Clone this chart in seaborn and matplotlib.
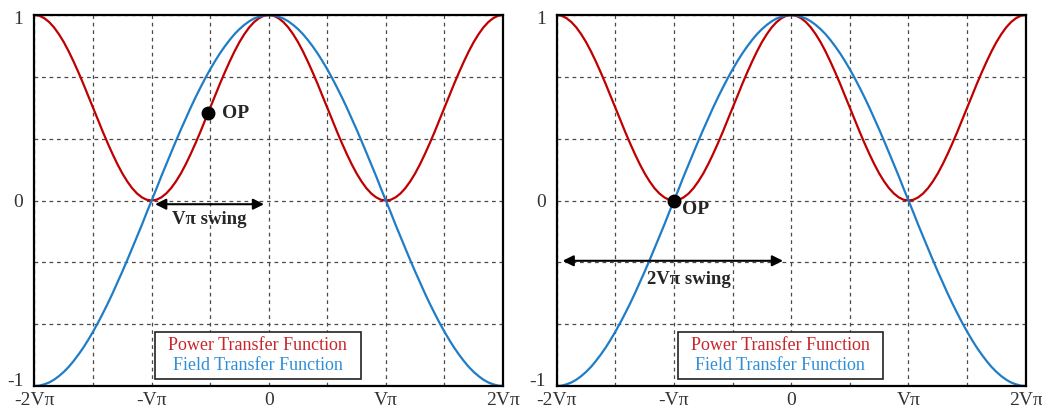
import matplotlib
matplotlib.use("Agg")
import matplotlib.pyplot as plt
import matplotlib.transforms as mtransforms
import seaborn as sns
import pandas as pd
from matplotlib.patches import Rectangle

# ---- data (x in units of Vpi) ----
x_vals = [-2.000, -1.958, -1.917, -1.875, -1.833, -1.792, -1.750, -1.708, -1.667, -1.625,
          -1.583, -1.542, -1.500, -1.458, -1.417, -1.375, -1.333, -1.292, -1.250, -1.208,
          -1.167, -1.125, -1.083, -1.042, -1.000, -0.958, -0.917, -0.875, -0.833, -0.792,
          -0.750, -0.708, -0.667, -0.625, -0.583, -0.542, -0.500, -0.458, -0.417, -0.375,
          -0.333, -0.292, -0.250, -0.208, -0.167, -0.125, -0.083, -0.042, 0.000,
          0.042, 0.083, 0.125, 0.167, 0.208, 0.250, 0.292, 0.333, 0.375, 0.417,
          0.458, 0.500, 0.542, 0.583, 0.625, 0.667, 0.708, 0.750, 0.792, 0.833,
          0.875, 0.917, 0.958, 1.000, 1.042, 1.083, 1.125, 1.167, 1.208, 1.250,
          1.292, 1.333, 1.375, 1.417, 1.458, 1.500, 1.542, 1.583, 1.625, 1.667,
          1.708, 1.750, 1.792, 1.833, 1.875, 1.917, 1.958, 2.000]
power_vals = [1.000, 0.996, 0.983, 0.962, 0.933, 0.897, 0.854, 0.804, 0.750, 0.691,
              0.629, 0.565, 0.500, 0.435, 0.371, 0.309, 0.250, 0.196, 0.146, 0.103,
              0.067, 0.038, 0.017, 0.004, 0.000, 0.004, 0.017, 0.038, 0.067, 0.103,
              0.146, 0.196, 0.250, 0.309, 0.371, 0.435, 0.500, 0.565, 0.629, 0.691,
              0.750, 0.804, 0.854, 0.897, 0.933, 0.962, 0.983, 0.996, 1.000,
              0.996, 0.983, 0.962, 0.933, 0.897, 0.854, 0.804, 0.750, 0.691, 0.629,
              0.565, 0.500, 0.435, 0.371, 0.309, 0.250, 0.196, 0.146, 0.103, 0.067,
              0.038, 0.017, 0.004, 0.000, 0.004, 0.017, 0.038, 0.067, 0.103, 0.146,
              0.196, 0.250, 0.309, 0.371, 0.435, 0.500, 0.565, 0.629, 0.691, 0.750,
              0.804, 0.854, 0.897, 0.933, 0.962, 0.983, 0.996, 1.000]
field_vals = [-1.000, -0.998, -0.991, -0.981, -0.966, -0.947, -0.924, -0.897, -0.866, -0.831,
              -0.793, -0.752, -0.707, -0.659, -0.609, -0.556, -0.500, -0.442, -0.383, -0.321,
              -0.259, -0.195, -0.131, -0.065, 0.000, 0.065, 0.131, 0.195, 0.259, 0.321,
              0.383, 0.442, 0.500, 0.556, 0.609, 0.659, 0.707, 0.752, 0.793, 0.831,
              0.866, 0.897, 0.924, 0.947, 0.966, 0.981, 0.991, 0.998, 1.000,
              0.998, 0.991, 0.981, 0.966, 0.947, 0.924, 0.897, 0.866, 0.831, 0.793,
              0.752, 0.707, 0.659, 0.609, 0.556, 0.500, 0.442, 0.383, 0.321, 0.259,
              0.195, 0.131, 0.065, 0.000, -0.065, -0.131, -0.195, -0.259, -0.321, -0.383,
              -0.442, -0.500, -0.556, -0.609, -0.659, -0.707, -0.752, -0.793, -0.831, -0.866,
              -0.897, -0.924, -0.947, -0.966, -0.981, -0.991, -0.998, -1.000]

x_ticks = [-2, -1, 0, 1, 2]
x_tick_labels = ["-2V\u03c0", "-V\u03c0", "0", "V\u03c0", "2V\u03c0"]
x_minor = [-1.5, -0.5, 0.5, 1.5]
y_ticks = [-1, 0, 1]
y_tick_labels = ["-1", "0", "1"]
y_minor = [-2/3, -1/3, 1/3, 2/3]

op_left = (-0.52, 0.47)
op_right = (-1.0, 0.0)
swing_left = (-0.97, -0.04, -0.02)    # x start, x end, y
swing_right = (-1.95, -0.07, -0.325)

legend_labels = ["Power Transfer Function", "Field Transfer Function"]

RED = "#C00000"
BLUE = "#1F7DC8"
RED_TXT = "#C8262A"
BLUE_TXT = "#2F8FD6"

sns.set_style("white")
plt.rcParams['font.family'] = ['Liberation Serif', 'DejaVu Serif']

df = pd.DataFrame({"x": x_vals, "power": power_vals, "field": field_vals})

fig = plt.figure(figsize=(10.42, 4.11), dpi=100)
ax1 = fig.add_axes([0.0331, 0.0608, 0.4496, 0.9027])
ax2 = fig.add_axes([0.5343, 0.0608, 0.4501, 0.9027])

for ax in (ax1, ax2):
    sns.lineplot(data=df, x="x", y="power", ax=ax, color=RED, lw=1.6, zorder=3)
    sns.lineplot(data=df, x="x", y="field", ax=ax, color=BLUE, lw=1.6, zorder=3)
    ax.set_xlim(-2, 2)
    ax.set_ylim(-1, 1)
    ax.set_xticks(x_ticks)
    ax.set_xticklabels(x_tick_labels)
    ax.set_xticks(x_minor, minor=True)
    ax.set_yticks(y_ticks)
    ax.set_yticklabels(y_tick_labels)
    ax.set_yticks(y_minor, minor=True)
    ax.set_xlabel("")
    ax.set_ylabel("")
    ax.grid(True, which="both", color="#4a4a4a", linestyle=(0, (3, 3)), lw=0.9, zorder=1)
    ax.tick_params(axis="both", which="both", direction="in", length=3, width=1,
                   colors="black", labelsize=14, labelcolor="#333333")
    ax.tick_params(axis="x", which="major", pad=4)
    ax.tick_params(axis="y", which="major", pad=8)
    # nudge the y labels as in the reference (-1 sits a little above its tick, 1 a little below)
    ylabs = ax.get_yticklabels()
    ylabs[0].set_transform(ylabs[0].get_transform() +
                           mtransforms.ScaledTranslation(0, 7 / 100, fig.dpi_scale_trans))
    ylabs[2].set_transform(ylabs[2].get_transform() +
                           mtransforms.ScaledTranslation(0, -2 / 100, fig.dpi_scale_trans))
    for s in ax.spines.values():
        s.set_visible(True)
        s.set_color("black")
        s.set_linewidth(1.6)
        s.set_zorder(4)
    ax.set_axisbelow(True)
    # legend box
    ax.add_patch(Rectangle((-0.97, -0.962), 1.755, 0.253, facecolor="white",
                           edgecolor="#222222", lw=1.2, zorder=6))
    ax.text(-0.094, -0.779, legend_labels[0], color=RED_TXT, fontsize=13,
            ha="center", va="center", zorder=7)
    ax.text(-0.094, -0.887, legend_labels[1], color=BLUE_TXT, fontsize=13,
            ha="center", va="center", zorder=7)

# left panel annotations
ax1.plot([op_left[0]], [op_left[1]], "o", color="black", ms=9, zorder=8)
ax1.text(op_left[0] + 0.12, op_left[1], "OP", fontsize=14, fontweight="bold",
         ha="left", va="center", zorder=8)
ax1.annotate("", xy=(swing_left[1], swing_left[2]), xytext=(swing_left[0], swing_left[2]),
             arrowprops=dict(arrowstyle="<|-|>", color="black", lw=1.5,
                             mutation_scale=16, shrinkA=0, shrinkB=0), zorder=8)
ax1.text((swing_left[0] + swing_left[1]) / 2, swing_left[2] - 0.08, "V\u03c0 swing",
         fontsize=13.5, fontweight="bold", ha="center", va="center", zorder=8)

# right panel annotations
ax2.plot([op_right[0]], [op_right[1]], "o", color="black", ms=9, zorder=8)
ax2.text(op_right[0] + 0.07, op_right[1] - 0.05, "OP", fontsize=14, fontweight="bold",
         ha="left", va="center", zorder=8)
ax2.annotate("", xy=(swing_right[1], swing_right[2]), xytext=(swing_right[0], swing_right[2]),
             arrowprops=dict(arrowstyle="<|-|>", color="black", lw=1.5,
                             mutation_scale=16, shrinkA=0, shrinkB=0), zorder=8)
ax2.text(-0.87, swing_right[2] - 0.1, "2V\u03c0 swing",
         fontsize=13.5, fontweight="bold", ha="center", va="center", zorder=8)

fig.savefig("out.png", dpi=100)
